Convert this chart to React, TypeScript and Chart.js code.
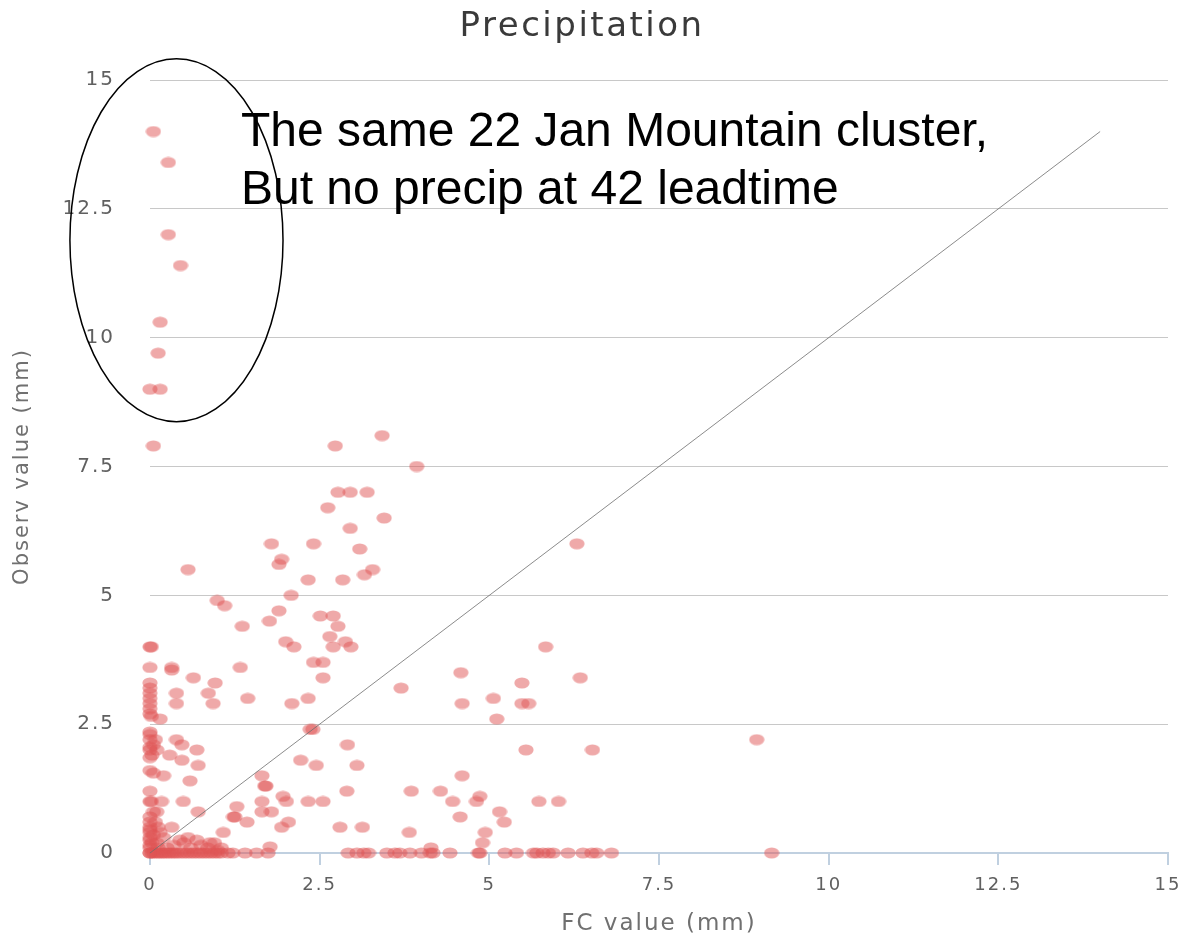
import React, { useEffect, useRef } from 'react';
import { Chart, registerables } from 'chart.js';

Chart.register(...registerables);

// Axis ticks (both axes share the same 0..15 range)
const TICK_VALUES = [0, 2.5, 5, 7.5, 10, 12.5, 15];
const TICK_LABELS = ['0', '2.5', '5', '7.5', '10', '12.5', '15'];

const CHART_TITLE = 'Precipitation';
const X_TITLE = 'FC value (mm)';
const Y_TITLE = 'Observ value (mm)';
const NOTE_LINES = ['The same 22 Jan Mountain cluster,', 'But no precip at 42 leadtime'];

// Mountain cluster: heavy observed precipitation with almost nothing forecast
const mountainFc = [0.05, 0.27, 0.27, 0.45, 0.15, 0.12, 0.0, 0.15, 0.05];
const mountainObs = [14.0, 13.4, 12.0, 11.4, 10.3, 9.7, 9.0, 9.0, 7.9];

// Stations with observed amounts above ~2 mm
const upperFc = [
  2.73, 3.42, 3.93, 2.77, 2.95, 3.2, 2.62, 3.45, 2.95, 1.79, 2.41, 3.09, 0.56, 1.94, 1.9,
  2.33, 2.84, 3.28, 3.16, 2.08, 0.99, 1.1, 1.9, 2.51, 2.7, 1.36, 1.76, 2.77, 2.65, 2.88,
  2.96, 2.7, 2.0, 2.12, 2.41, 2.55, 2.55, 1.33, 0.96, 0.86, 1.44, 2.33, 4.58, 3.7, 5.06,
  5.83, 6.34, 5.48, 4.6, 5.48, 5.58, 5.11, 8.94, 5.54, 6.52, 6.29,
];
const upperObs = [
  7.9, 8.1, 7.5, 7.0, 7.0, 7.0, 6.7, 6.5, 6.3, 6.0, 6.0, 5.9, 5.5, 5.7, 5.6,
  5.3, 5.3, 5.5, 5.4, 5.0, 4.9, 4.8, 4.7, 4.6, 4.6, 4.4, 4.5, 4.4, 4.2, 4.1,
  4.0, 4.0, 4.1, 4.0, 3.7, 3.7, 3.4, 3.6, 3.3, 3.1, 3.0, 3.0, 3.5, 3.2, 3.0,
  4.0, 3.4, 3.3, 2.9, 2.9, 2.9, 2.6, 2.2, 2.0, 2.0, 6.0,
];

// Small forecasts (under 1 mm) near the observed axis
const nearAxisFc = [
  0.32, 0.32, 0.64, 0.39, 0.39, 0.93, 2.09, 0.39, 0.47, 0.69, 0.29, 0.47, 0.71, 0.2, 0.59,
  0.15, 0.17, 0.49, 0.71, 0.32,
];
const nearAxisObs = [
  3.6, 3.55, 3.4, 3.1, 2.9, 2.9, 2.9, 2.2, 2.1, 2.0, 1.9, 1.8, 1.7, 1.5, 1.4,
  2.6, 1.0, 1.0, 0.8, 0.5,
];

// Light observed amounts across the forecast range
const lightFc = [
  2.36, 2.4, 2.22, 2.45, 2.91, 3.05, 2.9, 1.65, 1.69, 1.71, 1.65, 1.96, 2.01, 1.28, 1.23,
  1.25, 1.43, 1.65, 1.79, 2.04, 1.94, 1.08, 2.33, 2.55, 2.8, 3.13, 3.85, 4.28, 4.46, 4.86,
  4.81, 5.73, 6.02, 5.15, 5.22, 4.57, 4.6, 3.82, 4.94, 4.9, 4.14, 1.77,
];
const lightObs = [
  2.4, 2.4, 1.8, 1.7, 2.1, 1.7, 1.2, 1.5, 1.3, 1.3, 1.0, 1.1, 1.0, 0.9, 0.7,
  0.7, 0.6, 0.8, 0.8, 0.6, 0.5, 0.4, 1.0, 1.0, 0.5, 0.5, 1.2, 1.2, 1.0, 1.1,
  1.0, 1.0, 1.0, 0.8, 0.6, 0.7, 1.5, 0.4, 0.4, 0.2, 0.1, 0.12,
];

// Trace amounts close to the origin
const traceFc = [0.44, 0.56, 0.69, 0.88, 0.35, 0.5, 0.6, 0.75, 0.85, 0.95, 1.05, 0.2, 0.25, 1.0];
const traceObs = [0.25, 0.3, 0.25, 0.2, 0.15, 0.2, 0.1, 0.15, 0.1, 0.2, 0.1, 0.3, 0.1, 0.05];

// Zero forecast, observed precipitation
const dryFcColumnFc = [
  0, 0.02, 0, 0, 0, 0, 0, 0, 0, 0, 0.02, 0, 0, 0, 0.05, 0, 0, 0.03, 0, 0,
  0.02, 0, 0.05, 0, 0, 0, 0, 0, 0, 0, 0.03, 0, 0, 0.08, 0.1, 0.05, 0.1, 0.12,
  0, 0.05, 0.1, 0.08, 0.12, 0.15,
];
const dryFcColumnObs = [
  4.0, 4.0, 3.6, 3.3, 3.2, 3.1, 3.0, 2.9, 2.8, 2.7, 2.65, 2.35, 2.3, 2.2, 2.1, 2.05, 2.0, 1.9, 1.6, 1.2,
  1.0, 1.0, 0.8, 0.7, 0.6, 0.5, 0.45, 0.4, 0.3, 0.25, 0.2, 0.15, 0.1, 2.2, 2.0, 1.55, 0.8, 0.5,
  1.85, 0.35, 0.2, 0.6, 0.1, 0.4,
];

// Observed zero, forecast precipitation
const dryObsRowFc = [
  0, 0, 0.03, 0.06, 0.1, 0.13, 0.17, 0.2, 0.24, 0.28, 0.32, 0.36, 0.4, 0.45, 0.5, 0.55,
  0.6, 0.65, 0.7, 0.75, 0.8, 0.85, 0.9, 0.95, 1.0, 1.05, 1.15, 1.22, 1.4, 1.57, 1.74,
  2.92, 3.05, 3.15, 3.22, 3.49, 3.61, 3.68, 3.83, 4.0, 4.13, 4.17, 4.42, 4.84, 4.86,
  5.23, 5.4, 5.65, 5.7, 5.79, 5.87, 5.94, 6.16, 6.38, 6.51, 6.58, 6.8, 9.16,
];
const dryObsRowObs = dryObsRowFc.map(() => 0);

// Perfect-forecast reference line
const diagonalFc = [0, 14];
const diagonalObs = [0, 14];

// Ring drawn around the mountain cluster (data units)
const RING_CENTER_FC = 0.39;
const RING_CENTER_OBS = 11.89;
const RING_HALF_FC = 1.57;
const RING_HALF_OBS = 3.52;
// Note anchor (left edge of first baseline, data units)
const NOTE_FC = 1.34;
const NOTE_OBS = 13.72;

const FONT = "'DejaVu Sans', sans-serif";

function pairs(xs: number[], ys: number[]) {
  return xs.map((x, i) => ({ x, y: ys[i] }));
}

function makeDot(): HTMLCanvasElement {
  const c = document.createElement('canvas');
  c.width = 16;
  c.height = 12;
  const g = c.getContext('2d')!;
  g.fillStyle = 'rgba(223, 83, 83, 0.5)';
  g.beginPath();
  g.ellipse(8, 6, 7.6, 5.6, 0, 0, Math.PI * 2);
  g.fill();
  return c;
}

const spacingPlugin = {
  id: 'labelSpacing',
  beforeUpdate(chart: any) {
    chart.ctx.letterSpacing = '2px';
  },
  beforeDraw(chart: any) {
    chart.ctx.letterSpacing = '2px';
  },
};

const decorPlugin = {
  id: 'decor',
  afterDraw(chart: any) {
    const { ctx } = chart;
    const x = chart.scales.x;
    const y = chart.scales.y;
    ctx.save();

    // chart title
    ctx.letterSpacing = '2.5px';
    ctx.font = `34px ${FONT}`;
    ctx.fillStyle = '#3a3a3a';
    ctx.textAlign = 'center';
    ctx.textBaseline = 'middle';
    ctx.fillText(CHART_TITLE, chart.width * 0.49, 27);

    // ring around the cluster
    const cx = x.getPixelForValue(RING_CENTER_FC);
    const cy = y.getPixelForValue(RING_CENTER_OBS);
    const rx = x.getPixelForValue(RING_CENTER_FC + RING_HALF_FC) - cx;
    const ry = cy - y.getPixelForValue(RING_CENTER_OBS + RING_HALF_OBS);
    ctx.beginPath();
    ctx.ellipse(cx, cy, rx, ry, 0, 0, Math.PI * 2);
    ctx.strokeStyle = '#000';
    ctx.lineWidth = 1.5;
    ctx.stroke();

    // note text
    ctx.letterSpacing = '0px';
    ctx.font = "48px 'Liberation Sans', Arial, sans-serif";
    ctx.fillStyle = '#000';
    ctx.textAlign = 'left';
    ctx.textBaseline = 'alphabetic';
    const nx = x.getPixelForValue(NOTE_FC);
    const ny = y.getPixelForValue(NOTE_OBS);
    NOTE_LINES.forEach((line, i) => ctx.fillText(line, nx, ny + i * 58));
    ctx.restore();
  },
};

function tickText(value: number | string) {
  const i = TICK_VALUES.indexOf(Number(value));
  return i >= 0 ? TICK_LABELS[i] : '';
}

export default function App() {
  const canvasRef = useRef<HTMLCanvasElement | null>(null);

  useEffect(() => {
    if (!canvasRef.current) return;
    const dot = makeDot();
    const points = [
      ...pairs(mountainFc, mountainObs),
      ...pairs(upperFc, upperObs),
      ...pairs(nearAxisFc, nearAxisObs),
      ...pairs(lightFc, lightObs),
      ...pairs(traceFc, traceObs),
      ...pairs(dryFcColumnFc, dryFcColumnObs),
      ...pairs(dryObsRowFc, dryObsRowObs),
    ];

    const chart = new Chart(canvasRef.current, {
      type: 'scatter',
      data: {
        datasets: [
          {
            label: 'Diagonal',
            data: pairs(diagonalFc, diagonalObs),
            showLine: true,
            borderColor: 'rgba(110, 110, 110, 0.8)',
            borderWidth: 1,
            pointRadius: 0,
            pointHoverRadius: 0,
            clip: false,
            order: 1,
          } as any,
          {
            label: 'Precipitation',
            data: points,
            pointStyle: dot as any,
            pointRadius: 5,
            pointHoverRadius: 5,
            clip: false,
            order: 2,
          } as any,
        ],
      },
      options: {
        animation: false,
        responsive: false,
        events: [],
        layout: { padding: { top: 80, right: 20, bottom: 0, left: 0 } },
        plugins: {
          legend: { display: false },
          tooltip: { enabled: false },
          title: { display: false },
        },
        scales: {
          x: {
            type: 'linear',
            min: 0,
            max: 15,
            afterFit: (scale: any) => {
              scale.height = 86;
              scale.paddingLeft = 12;
              scale.paddingRight = 12;
            },
            afterBuildTicks: (scale: any) => {
              scale.ticks = TICK_VALUES.map((v) => ({ value: v }));
            },
            ticks: {
              callback: tickText,
              color: '#606060',
              font: { family: FONT, size: 18 },
              padding: 10,
              maxRotation: 0,
            },
            grid: {
              drawOnChartArea: false,
              drawTicks: true,
              tickLength: 12,
              color: '#C0D0E0',
              lineWidth: 2,
            },
            border: { display: true, color: '#C0D0E0', width: 2 },
            title: {
              display: true,
              text: X_TITLE,
              color: '#707070',
              font: { family: FONT, size: 23 },
              padding: { top: 0, bottom: 1 },
            },
          },
          y: {
            type: 'linear',
            min: 0,
            max: 15,
            afterFit: (scale: any) => {
              scale.width = 150;
            },
            afterBuildTicks: (scale: any) => {
              scale.ticks = TICK_VALUES.map((v) => ({ value: v }));
            },
            ticks: {
              callback: tickText,
              color: '#606060',
              font: { family: FONT, size: 20 },
              padding: 35,
            },
            grid: {
              drawTicks: false,
              color: '#C8C8C8',
              lineWidth: 1,
            },
            border: { display: false },
            title: {
              display: true,
              text: Y_TITLE,
              color: '#707070',
              font: { family: FONT, size: 21 },
              padding: { top: 10, bottom: 0 },
            },
          },
        },
      },
      plugins: [spacingPlugin, decorPlugin],
    });

    return () => chart.destroy();
  }, []);

  return (
    <div style={{ position: 'absolute', left: 0, top: 0, width: 1188, height: 939, background: '#fff' }}>
      <canvas ref={canvasRef} width={1188} height={939} style={{ display: 'block' }} />
    </div>
  );
}
